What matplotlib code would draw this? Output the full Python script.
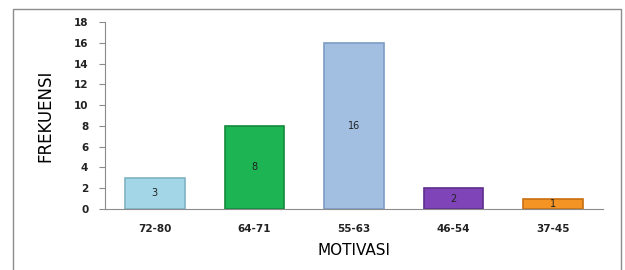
import numpy as np
import matplotlib.pyplot as plt
from matplotlib.patches import Rectangle

# data
categories = ["72-80", "64-71", "55-63", "46-54", "37-45"]
frekuensi = [3, 8, 16, 2, 1]
bar_colors = ["#a3d6e6", "#1db553", "#a2bfe2", "#7f45b8", "#f39424"]
edge_colors = ["#7fb3c4", "#138a3c", "#7d9cc4", "#5d2d8c", "#c86f10"]

fig = plt.figure(figsize=(6.25, 2.7), dpi=100)

# outer frame around the chart area
frame = Rectangle((13/625, -0.05), (621-13)/625, 1 - 9/270 + 0.05,
                  transform=fig.transFigure, fill=False,
                  edgecolor="#8c8c8c", linewidth=1.0)
fig.patches.append(frame)

ax = fig.add_axes([105/625, 1 - 209/270, (603-105)/625, (209-22)/270])

x = np.arange(len(categories))
bars = ax.bar(x, frekuensi, width=0.6, color=bar_colors,
              edgecolor=edge_colors, linewidth=1.2, zorder=2)

# value labels in the middle of each bar
for xi, v in zip(x, frekuensi):
    ax.text(xi, v / 2, str(v), ha="center", va="center",
            fontsize=7, color="#222222", zorder=3)

ax.set_xlim(-0.5, len(categories) - 0.5)
ax.set_ylim(0, 18)
ax.set_yticks(np.arange(0, 19, 2))
ax.set_xticks(x)
ax.set_xticklabels(categories)

ax.spines["top"].set_visible(False)
ax.spines["right"].set_visible(False)
ax.spines["left"].set_color("#8c8c8c")
ax.spines["bottom"].set_color("#8c8c8c")
ax.tick_params(axis="y", length=4, color="#8c8c8c", labelsize=7.5,
               labelcolor="#222222", pad=8)
ax.tick_params(axis="x", length=0, labelsize=7.5, labelcolor="#222222", pad=11)
for lbl in ax.get_xticklabels() + ax.get_yticklabels():
    lbl.set_fontweight("bold")

ax.set_ylabel("FREKUENSI", fontsize=12, family="DejaVu Sans Condensed",
              labelpad=14)
ax.set_xlabel("MOTIVASI", fontsize=11, labelpad=6)

fig.savefig("out.png", dpi=100)
